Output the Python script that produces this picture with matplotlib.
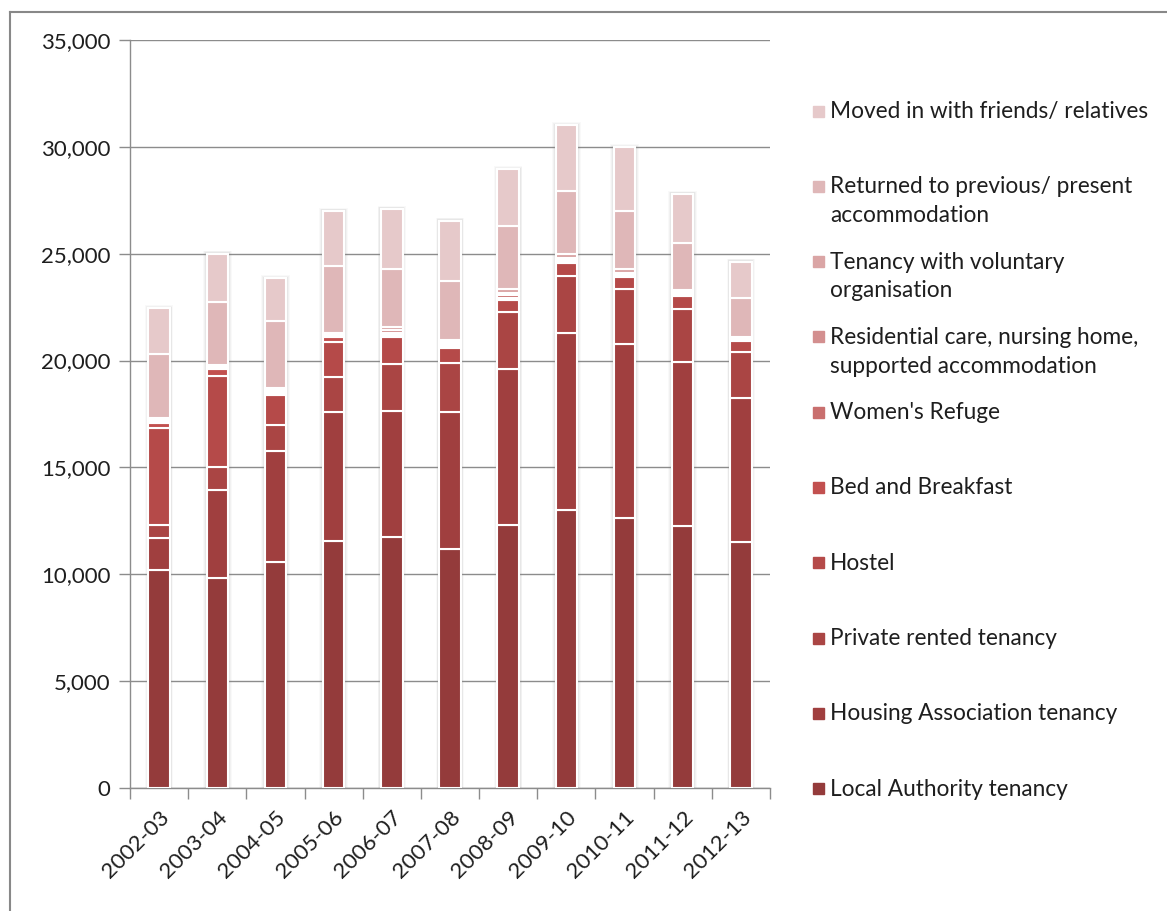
import matplotlib
matplotlib.use('Agg')
import matplotlib.pyplot as plt
from matplotlib.patches import Rectangle
from matplotlib.lines import Line2D
from matplotlib.ticker import FuncFormatter, MultipleLocator
import numpy as np

plt.rcParams['font.family'] = ['Lato', 'DejaVu Sans']

years = ["2002-03", "2003-04", "2004-05", "2005-06", "2006-07", "2007-08",
         "2008-09", "2009-10", "2010-11", "2011-12", "2012-13"]

# outcome counts per year, bottom of the stack first
local_authority = [10200, 9810, 10560, 11580, 11750, 11180, 12300, 13000, 12630, 12260, 11510]
housing_assoc   = [1480, 4140, 5200, 6020, 5890, 6430, 7290, 8300, 8130, 7660, 6720]
private_rented  = [620, 1050, 1240, 1630, 2200, 2260, 2700, 2670, 2580, 2490, 2190]
hostel          = [4550, 4300, 1400, 1640, 1280, 700, 550, 580, 590, 630, 510]
bed_breakfast   = [220, 300, 80, 230, 80, 130, 110, 100, 80, 70, 70]
womens_refuge   = [80, 60, 60, 60, 100, 80, 100, 70, 50, 60, 40]
residential     = [80, 60, 70, 60, 120, 80, 100, 70, 50, 60, 40]
voluntary_org   = [70, 80, 120, 70, 130, 100, 180, 200, 160, 70, 40]
returned        = [2990, 2950, 3140, 3140, 2720, 2780, 2960, 2950, 2740, 2190, 1790]
friends         = [2160, 2250, 1980, 2570, 2830, 2810, 2660, 3060, 2970, 2310, 1720]

series = [local_authority, housing_assoc, private_rented, hostel, bed_breakfast,
          womens_refuge, residential, voluntary_org, returned, friends]
names = ["Local Authority tenancy", "Housing Association tenancy",
         "Private rented tenancy", "Hostel", "Bed and Breakfast",
         "Women's Refuge", "Residential care, nursing home,\nsupported accommodation",
         "Tenancy with voluntary\norganisation",
         "Returned to previous/ present\naccommodation",
         "Moved in with friends/ relatives"]
colors = ["#943b3b", "#a03f3f", "#aa4544", "#b54a49", "#c2504f",
          "#c96f6e", "#d38f8f", "#daa5a5", "#dfb7b8", "#e6c9ca"]

W, H = 1167, 911
fig = plt.figure(figsize=(W / 100, H / 100), dpi=100)
ax = fig.add_axes([130 / W, 1 - 788 / H, 640 / W, 748 / H])

x = np.arange(len(years))
bw = 0.37
totals = np.sum(series, axis=0)

# soft shadow behind each stack
for grow, a in [(0.12, 0.05), (0.09, 0.07), (0.06, 0.10), (0.03, 0.14)]:
    ax.bar(x, totals + grow * 1200, bw + grow, color="#8a8a8a", alpha=a,
           linewidth=0, zorder=2)

bottom = np.zeros(len(years))
for vals, c in zip(series, colors):
    ax.bar(x, vals, bw, bottom=bottom, color=c, edgecolor="white",
           linewidth=1.5, zorder=3)
    bottom += np.array(vals)

ax.set_xlim(-0.5, len(years) - 0.5)
ax.set_ylim(0, 35000)
ax.yaxis.set_major_locator(MultipleLocator(5000))
ax.yaxis.set_major_formatter(FuncFormatter(lambda v, p: f"{int(v):,}"))
ax.grid(axis="y", color="#8c8c8c", linewidth=1.0, zorder=0)
ax.set_axisbelow(True)

for s in ["top", "right"]:
    ax.spines[s].set_visible(False)
for s in ["left", "bottom"]:
    ax.spines[s].set_color("#8c8c8c")
    ax.spines[s].set_linewidth(1.0)

ax.tick_params(axis="y", length=8, width=1.0, color="#8c8c8c",
               labelsize=16, labelcolor="#1e1e1e", pad=6)
ax.set_xticks(x)
ax.set_xticklabels(years, rotation=45, ha="right", rotation_mode="anchor",
                   fontsize=16, color="#1e1e1e")
ax.tick_params(axis="x", which="major", length=0, pad=14)
ax.set_xticks(np.arange(len(years) + 1) - 0.5, minor=True)
ax.tick_params(axis="x", which="minor", length=8, width=1.0, color="#8c8c8c")

# legend, top entry first
top_y = 111
step = 75.3
for i, k in enumerate(range(len(series) - 1, -1, -1)):
    yc = top_y + i * step
    fig.patches.append(Rectangle((813 / W, 1 - (yc + 5.5) / H), 11 / W, 11 / H,
                                 transform=fig.transFigure, color=colors[k]))
    fig.text(830 / W, 1 - (yc - 10) / H, names[k], fontsize=16.3, color="#1e1e1e",
             va="top", ha="left", linespacing=1.45)

# outer frame
fig.add_artist(Line2D([10 / W, 10 / W], [0, 1 - 12 / H], color="#888888",
                      linewidth=1.5, transform=fig.transFigure))
fig.add_artist(Line2D([10 / W, 1], [1 - 12 / H, 1 - 12 / H], color="#888888",
                      linewidth=1.5, transform=fig.transFigure))

fig.savefig("out.png", dpi=100)
